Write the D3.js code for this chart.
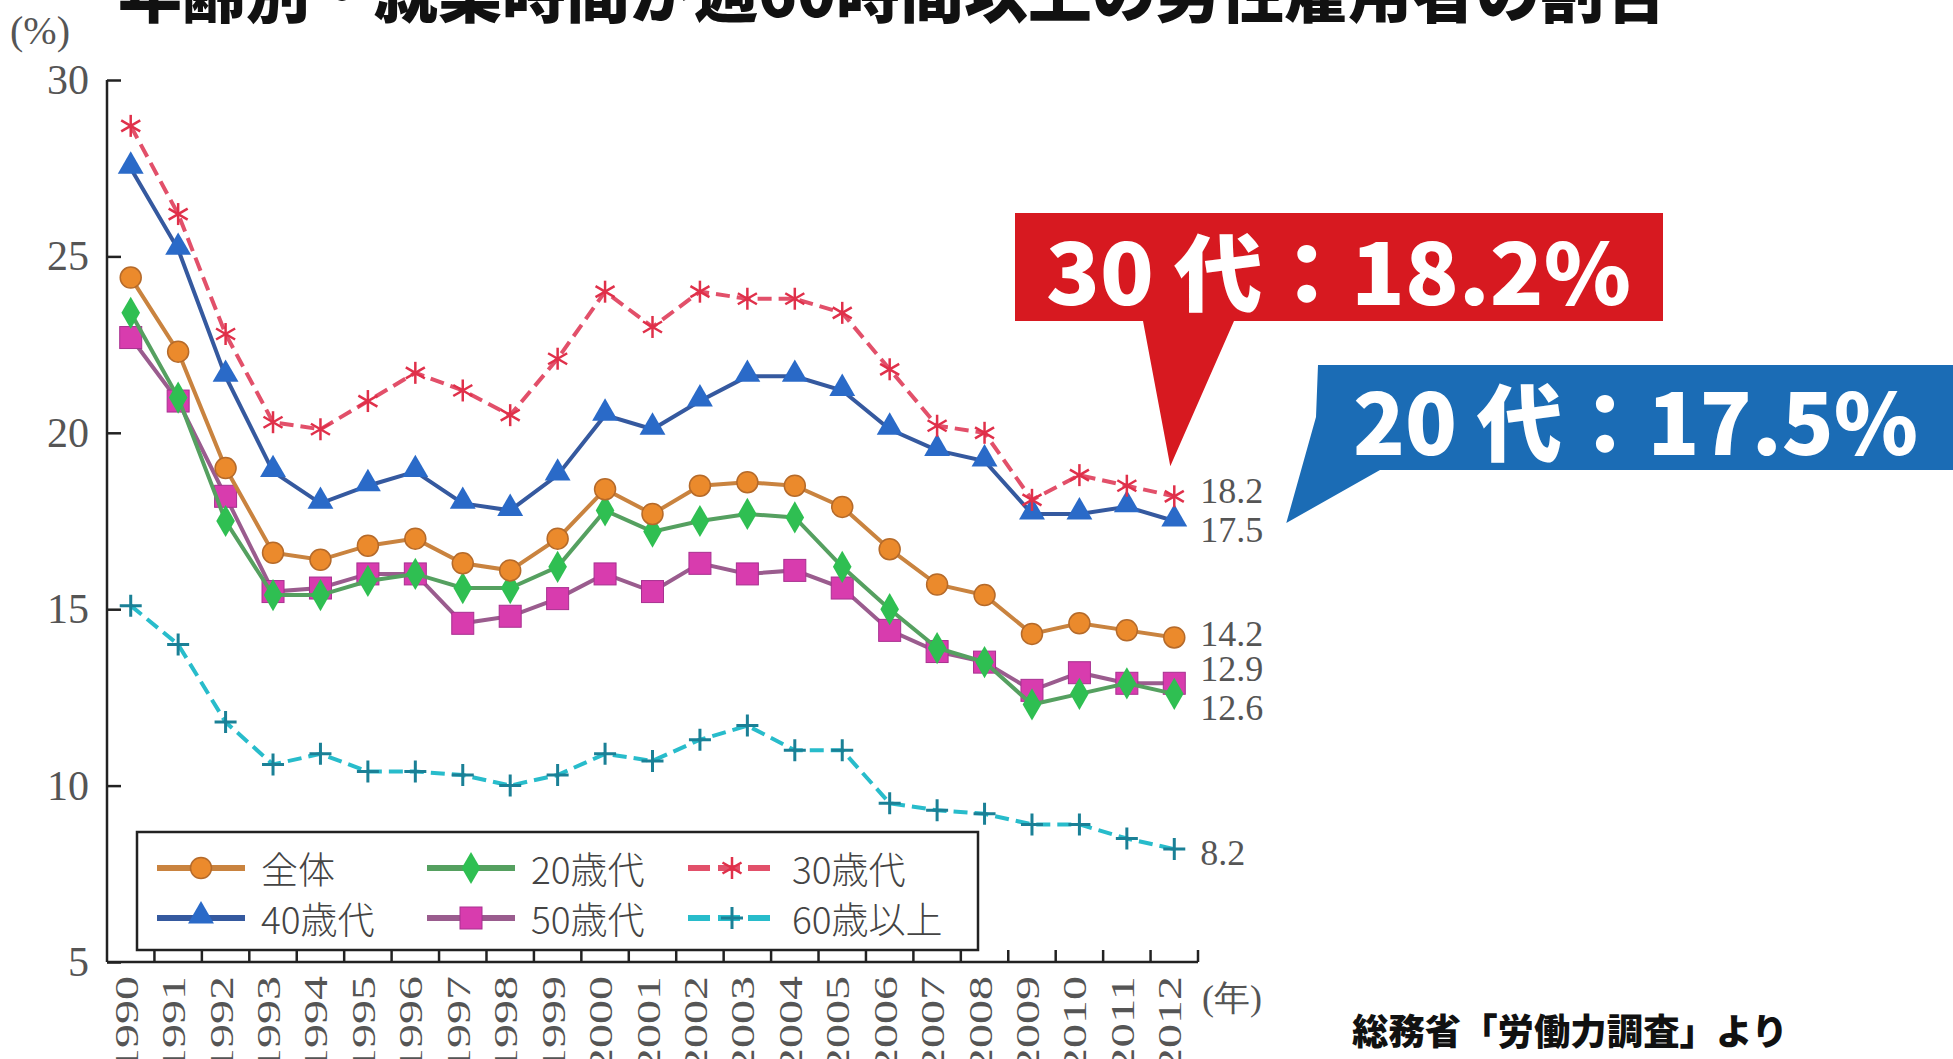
<!DOCTYPE html>
<html>
<head>
<meta charset="utf-8">
<script src="https://cdn.jsdelivr.net/npm/d3@7"></script>
<style>
  body { margin: 0; background: #fff; }
  svg { display: block; }
  .serif { font-family: "Liberation Serif", "DejaVu Serif", serif; }
  .goth { font-family: "Noto Sans CJK JP", sans-serif; }
</style>
</head>
<body>
<svg width="1953" height="1059"></svg>
<script>
// years and series (%)
var years = ['1990','1991','1992','1993','1994','1995','1996','1997','1998','1999','2000','2001',
             '2002','2003','2004','2005','2006','2007','2008','2009','2010','2011','2012'];
var total  = [24.4,22.3,19.0,16.6,16.4,16.8,17.0,16.3,16.1,17.0,18.4,17.7,18.5,18.6,18.5,17.9,16.7,15.7,15.4,14.3,14.6,14.4,14.2];
var age20  = [23.4,21.0,17.5,15.4,15.4,15.8,16.0,15.6,15.6,16.2,17.8,17.2,17.5,17.7,17.6,16.2,15.0,13.9,13.5,12.3,12.6,12.9,12.6];
var age30  = [28.7,26.2,22.8,20.3,20.1,20.9,21.7,21.2,20.5,22.1,24.0,23.0,24.0,23.8,23.8,23.4,21.8,20.2,20.0,18.1,18.8,18.5,18.2];
var age40  = [27.5,25.2,21.6,18.9,18.0,18.5,18.9,18.0,17.8,18.8,20.5,20.1,20.9,21.6,21.6,21.2,20.1,19.5,19.2,17.7,17.7,17.9,17.5];
var age50  = [22.7,20.9,18.2,15.5,15.6,16.0,16.0,14.6,14.8,15.3,16.0,15.5,16.3,16.0,16.1,15.6,14.4,13.8,13.5,12.7,13.2,12.9,12.9];
var age60  = [15.1,14.0,11.8,10.6,10.9,10.4,10.4,10.3,10.0,10.3,10.9,10.7,11.3,11.7,11.0,11.0,9.5,9.3,9.2,8.9,8.9,8.5,8.2];
var seriesNames = ['全体','20歳代','30歳代','40歳代','50歳代','60歳以上'];
var yTicks = [5,10,15,20,25,30];

var svg = d3.select('svg');

var x = d3.scaleBand().domain(years).range([107, 1198]).paddingInner(0);
var y = d3.scaleLinear().domain([5, 30]).range([962, 80]);
var cx = function(i) { return x(years[i]) + x.bandwidth() / 2; };

var styles = [
  { vals: total, line: '#c9833f', fill: '#eb8a2c', dash: null,    mark: 'circle' },
  { vals: age20, line: '#55a060', fill: '#2fbf52', dash: null,    mark: 'diamond' },
  { vals: age30, line: '#e2506a', fill: '#e0304a', dash: '14,7',  mark: 'aster' },
  { vals: age40, line: '#35599f', fill: '#2a6ac8', dash: null,    mark: 'triangle' },
  { vals: age50, line: '#9a5c8e', fill: '#d83cae', dash: null,    mark: 'square' },
  { vals: age60, line: '#28bccb', fill: '#1a8096', dash: '14,7',  mark: 'plus' }
];

// title (cut off at top in original)
svg.append('text').attr('class', 'goth')
   .attr('x', 118).attr('y', 17)
   .attr('font-size', 66).attr('font-weight', 900).attr('fill', '#111')
   .attr('textLength', 1550).attr('lengthAdjust', 'spacingAndGlyphs')
   .text('年齢別・就業時間が週60時間以上の男性雇用者の割合');

svg.append('text').attr('class', 'serif')
   .attr('x', 10).attr('y', 44).attr('font-size', 40).attr('fill', '#555')
   .text('(%)');

// axes
var yAxis = svg.append('g').attr('transform', 'translate(107,0)')
   .call(d3.axisLeft(y).tickValues(yTicks).tickSize(-14).tickPadding(18));
yAxis.select('.domain').attr('stroke', '#222').attr('stroke-width', 2.5).attr('d', 'M0,80V962');
yAxis.selectAll('.tick line').attr('stroke', '#222').attr('stroke-width', 2.5);
yAxis.selectAll('.tick text').attr('class', 'serif').attr('font-size', 42).attr('fill', '#555');

var xg = svg.append('g');
xg.append('line').attr('x1', 107).attr('x2', 1198).attr('y1', 962).attr('y2', 962)
  .attr('stroke', '#222').attr('stroke-width', 2.5);
xg.selectAll('.xt').data(years).enter().append('line')
  .attr('x1', function(d) { return x(d) + x.bandwidth(); })
  .attr('x2', function(d) { return x(d) + x.bandwidth(); })
  .attr('y1', 962).attr('y2', 950).attr('stroke', '#222').attr('stroke-width', 2.5);
xg.selectAll('.xl').data(years).enter().append('text').attr('class', 'serif')
  .attr('transform', function(d) { return 'translate(' + (x(d) + x.bandwidth() / 2 - 4) + ',976) rotate(-90)'; })
  .attr('text-anchor', 'end').attr('dominant-baseline', 'central')
  .attr('font-size', 33).attr('fill', '#555')
  .attr('textLength', 96).attr('lengthAdjust', 'spacingAndGlyphs')
  .text(function(d) { return d; });
svg.append('text').attr('class', 'serif').attr('x', 1202).attr('y', 1010)
   .attr('font-size', 36).attr('fill', '#555').text('(年)');

// markers
function marker(g, type, px, py, s) {
  if (type === 'circle') {
    g.append('circle').attr('cx', px).attr('cy', py).attr('r', 10.5)
     .attr('fill', s.fill).attr('stroke', '#b56a2a').attr('stroke-width', 1.5);
  } else if (type === 'diamond') {
    g.append('path').attr('d', d3.symbol(d3.symbolDiamond, 300)())
     .attr('transform', 'translate(' + px + ',' + py + ')').attr('fill', s.fill);
  } else if (type === 'triangle') {
    g.append('path').attr('d', d3.symbol(d3.symbolTriangle, 290)())
     .attr('transform', 'translate(' + px + ',' + (py - 2) + ')').attr('fill', s.fill);
  } else if (type === 'square') {
    g.append('rect').attr('x', px - 11).attr('y', py - 11).attr('width', 22).attr('height', 22)
     .attr('fill', s.fill).attr('stroke', '#a83090').attr('stroke-width', 1);
  } else if (type === 'aster') {
    [0, 60, 120].forEach(function(a) {
      g.append('line').attr('x1', 0).attr('y1', -11).attr('x2', 0).attr('y2', 11)
       .attr('transform', 'translate(' + px + ',' + py + ') rotate(' + a + ')')
       .attr('stroke', s.fill).attr('stroke-width', 2.5);
    });
  } else if (type === 'plus') {
    g.append('path').attr('d', 'M' + (px - 11) + ',' + py + 'h22M' + px + ',' + (py - 11) + 'v22')
     .attr('stroke', s.fill).attr('stroke-width', 3);
  }
}

var line = d3.line().x(function(d, i) { return cx(i); }).y(function(d) { return y(d); });
var plot = svg.append('g');
// draw back to front: 60, 50, 20, total, 40, 30
[5, 4, 1, 0, 3, 2].forEach(function(k) {
  var s = styles[k];
  var g = plot.append('g');
  g.append('path').datum(s.vals).attr('d', line).attr('fill', 'none')
   .attr('stroke', s.line).attr('stroke-width', 4)
   .attr('stroke-dasharray', s.dash);
  s.vals.forEach(function(v, i) { marker(g, s.mark, cx(i), y(v), s); });
});

// end value labels
var endIdx = years.length - 1;
var endLabels = [
  { k: 2, dy: -5 }, { k: 3, dy: 9 }, { k: 0, dy: -3 }, { k: 4, dy: -14 }, { k: 1, dy: 14 }, { k: 5, dy: 4 }
];
endLabels.forEach(function(e) {
  var v = styles[e.k].vals[endIdx];
  svg.append('text').attr('class', 'serif').attr('x', cx(endIdx) + 26).attr('y', y(v) + e.dy)
     .attr('dominant-baseline', 'central').attr('font-size', 36).attr('fill', '#555')
     .text(v.toFixed(1));
});

// legend
var lg = svg.append('g');
lg.append('rect').attr('x', 137).attr('y', 832).attr('width', 841).attr('height', 118)
  .attr('fill', '#fff').attr('stroke', '#222').attr('stroke-width', 2.5);
var legOrder = [0, 1, 2, 3, 4, 5];
legOrder.forEach(function(k, n) {
  var col = n % 3, row = Math.floor(n / 3);
  var lx = [157, 427, 688][col], ly = 868 + row * 50;
  var s = styles[k];
  var g = lg.append('g');
  g.append('line').attr('x1', lx).attr('x2', lx + 88).attr('y1', ly).attr('y2', ly)
   .attr('stroke', s.line).attr('stroke-width', 6).attr('stroke-dasharray', s.dash ? '22,8' : null);
  marker(g, s.mark, lx + 44, ly, s);
  g.append('text').attr('x', lx + 104).attr('y', ly)
   .attr('dominant-baseline', 'central').attr('font-size', 37).attr('fill', '#444')
   .attr('font-family', '"Noto Sans CJK JP", serif').attr('font-weight', 300)
   .text(seriesNames[k]);
});

// callouts
var rx = cx(endIdx), ry = y(age30[endIdx]);
svg.append('path')
   .attr('d', 'M1015,213H1663V321H1234L' + (rx - 4) + ',' + (ry - 30) + 'L1143,321H1015Z')
   .attr('fill', '#d71920');
svg.append('text').attr('class', 'goth').attr('x', 1046).attr('y', 268)
   .attr('dominant-baseline', 'central').attr('font-size', 84).attr('font-weight', 900)
   .attr('fill', '#fff').attr('textLength', 585).attr('lengthAdjust', 'spacingAndGlyphs')
   .text('30 代：18.2%');

var bx = cx(endIdx) + 112, by = y(age40[endIdx]);
svg.append('path')
   .attr('d', 'M1318,365H1953V470H1380L' + bx + ',' + (by + 2) + 'L1316,417Z')
   .attr('fill', '#1b6cb5');
svg.append('text').attr('class', 'goth').attr('x', 1353).attr('y', 418)
   .attr('dominant-baseline', 'central').attr('font-size', 84).attr('font-weight', 900)
   .attr('fill', '#fff').attr('textLength', 565).attr('lengthAdjust', 'spacingAndGlyphs')
   .text('20 代：17.5%');

// source
svg.append('text').attr('class', 'goth').attr('x', 1352).attr('y', 1029)
   .attr('dominant-baseline', 'central').attr('font-size', 36).attr('font-weight', 900)
   .attr('fill', '#111').attr('textLength', 436).attr('lengthAdjust', 'spacingAndGlyphs')
   .text('総務省「労働力調査」より');
</script>
</body>
</html>
